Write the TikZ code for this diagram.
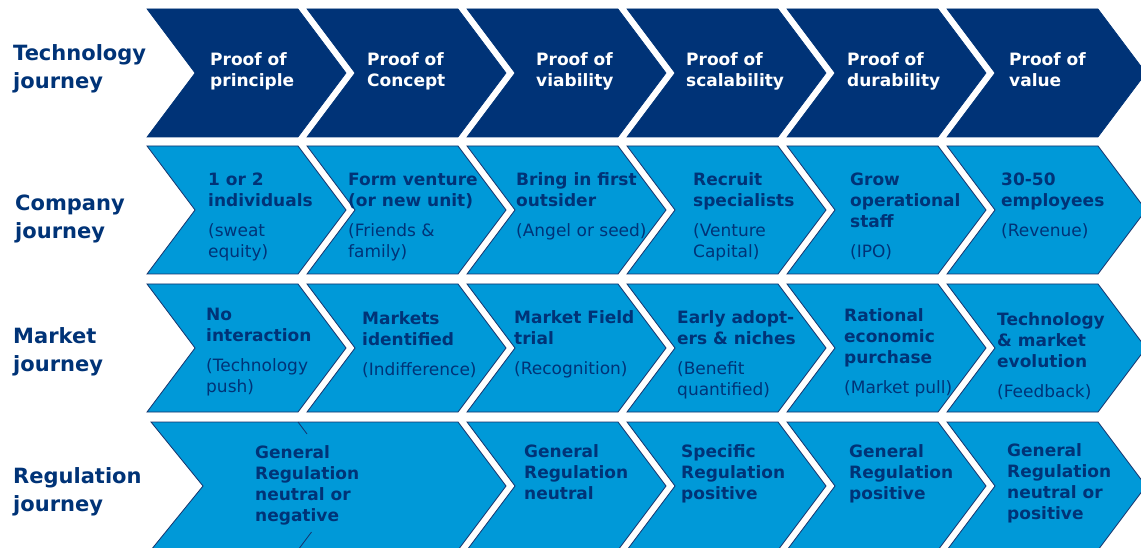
\documentclass[tikz,border=0pt]{standalone}
\usepackage{fontspec}
\setmainfont{DejaVu Sans}
\definecolor{navy}{RGB}{0,51,119}
\definecolor{sky}{RGB}{0,153,216}
\definecolor{edgeblue}{RGB}{22,50,108}
\tikzset{
  dark/.style={fill=navy, draw=navy, line width=0.6pt},
  light/.style={fill=sky, draw=edgeblue, line width=0.8pt},
  rowlab/.style={anchor=north west, inner sep=0pt, align=left, font=\bfseries\fontsize{21}{28.5}\selectfont, text=navy},
  ctext/.style={anchor=north west, inner sep=0pt, align=left, font=\bfseries\fontsize{17}{21}\selectfont, text=navy},
  wtext/.style={ctext, text=white},
}
\newcommand\chevron[5]{\filldraw[#1] (#2,#3) -- ++(#4,0) -- ++(48,64) -- ++(-48,64) -- ++(-#4,0) -- ++(#5,-64) -- cycle;}
\newcommand\chs{\rule{0pt}{13pt}}
\newcommand\lbs{\rule{0pt}{16pt}}
\begin{document}
\begin{tikzpicture}[x=1pt, y=-1pt]
\useasboundingbox (0,0) rectangle (1141,548);
\clip (0,0) rectangle (1141,548);
\fill[white] (0,0) rectangle (1141,548);
% row 1
\foreach \x in {147,307,467,627,787,947} {\chevron{dark}{\x}{9}{151}{48}}
% row 2
\foreach \x in {147,307,467,627,787,947} {\chevron{light}{\x}{146}{151}{48}}
% row 3
\foreach \x in {147,307,467,627,787,947} {\chevron{light}{\x}{284}{151}{48}}
% row 4
\chevron{light}{151}{422}{307}{52}
\draw[edgeblue, line width=0.8pt] (298,422) -- (307,434);
\draw[edgeblue, line width=0.8pt] (311.5,532) -- (298,550);
\foreach \x in {467,627,787,947} {\chevron{light}{\x}{422}{151}{48}}

% row labels
\node[rowlab] (l1) at (13,44) {\lbs Technology\\journey};
\node[rowlab] (l2) at (15,194) {\lbs Company\\journey};
\node[rowlab] (l3) at (13,327) {\lbs Market\\journey};
\node[rowlab] (l4) at (13,467) {\lbs Regulation\\journey};

% technology journey
\node[wtext] (t1) at (210,52) {\chs Proof of\\principle};
\node[wtext] (t2) at (367,52) {\chs Proof of\\Concept};
\node[wtext] (t3) at (536,52) {\chs Proof of\\viability};
\node[wtext] (t4) at (686,52) {\chs Proof of\\scalability};
\node[wtext] (t5) at (847,52) {\chs Proof of\\durability};
\node[wtext] (t6) at (1009,52) {\chs Proof of\\value};

% company journey
\node[ctext] (c1) at (208,172) {\chs 1 or 2\\individuals\\[9pt]\mdseries (sweat\\ \mdseries equity)};
\node[ctext] (c2) at (348,172) {\chs Form venture\\(or new unit)\\[9pt]\mdseries (Friends \&\\ \mdseries family)};
\node[ctext] (c3) at (516,172) {\chs Bring in first\\outsider\\[9pt]\mdseries (Angel or seed)};
\node[ctext] (c4) at (693,172) {\chs Recruit\\specialists\\[9pt]\mdseries (Venture\\ \mdseries Capital)};
\node[ctext] (c5) at (850,172) {\chs Grow\\operational\\staff\\[9pt]\mdseries (IPO)};
\node[ctext] (c6) at (1001,172) {\chs 30-50\\employees\\[9pt]\mdseries (Revenue)};

% market journey
\node[ctext] (m1) at (206,307) {\chs No\\interaction\\[9pt]\mdseries (Technology\\ \mdseries push)};
\node[ctext] (m2) at (362,311) {\chs Markets\\identified\\[9pt]\mdseries (Indifference)};
\node[ctext] (m3) at (514,310) {\chs Market Field\\trial\\[9pt]\mdseries (Recognition)};
\node[ctext] (m4) at (677,310) {\chs Early adopt-\\ers \& niches\\[9pt]\mdseries (Benefit\\ \mdseries quantified)};
\node[ctext] (m5) at (844,308) {\chs Rational\\economic\\purchase\\[9pt]\mdseries (Market pull)};
\node[ctext] (m6) at (997,312) {\chs Technology\\\& market\\evolution\\[9pt]\mdseries (Feedback)};

% regulation journey
\node[ctext] (g1) at (255,445) {\chs General\\Regulation\\neutral or\\negative};
\node[ctext] (g2) at (524,444) {\chs General\\Regulation\\neutral};
\node[ctext] (g3) at (681,444) {\chs Specific\\Regulation\\positive};
\node[ctext] (g4) at (849,444) {\chs General\\Regulation\\positive};
\node[ctext] (g5) at (1007,443) {\chs General\\Regulation\\neutral or\\positive};
\end{tikzpicture}
\end{document}
